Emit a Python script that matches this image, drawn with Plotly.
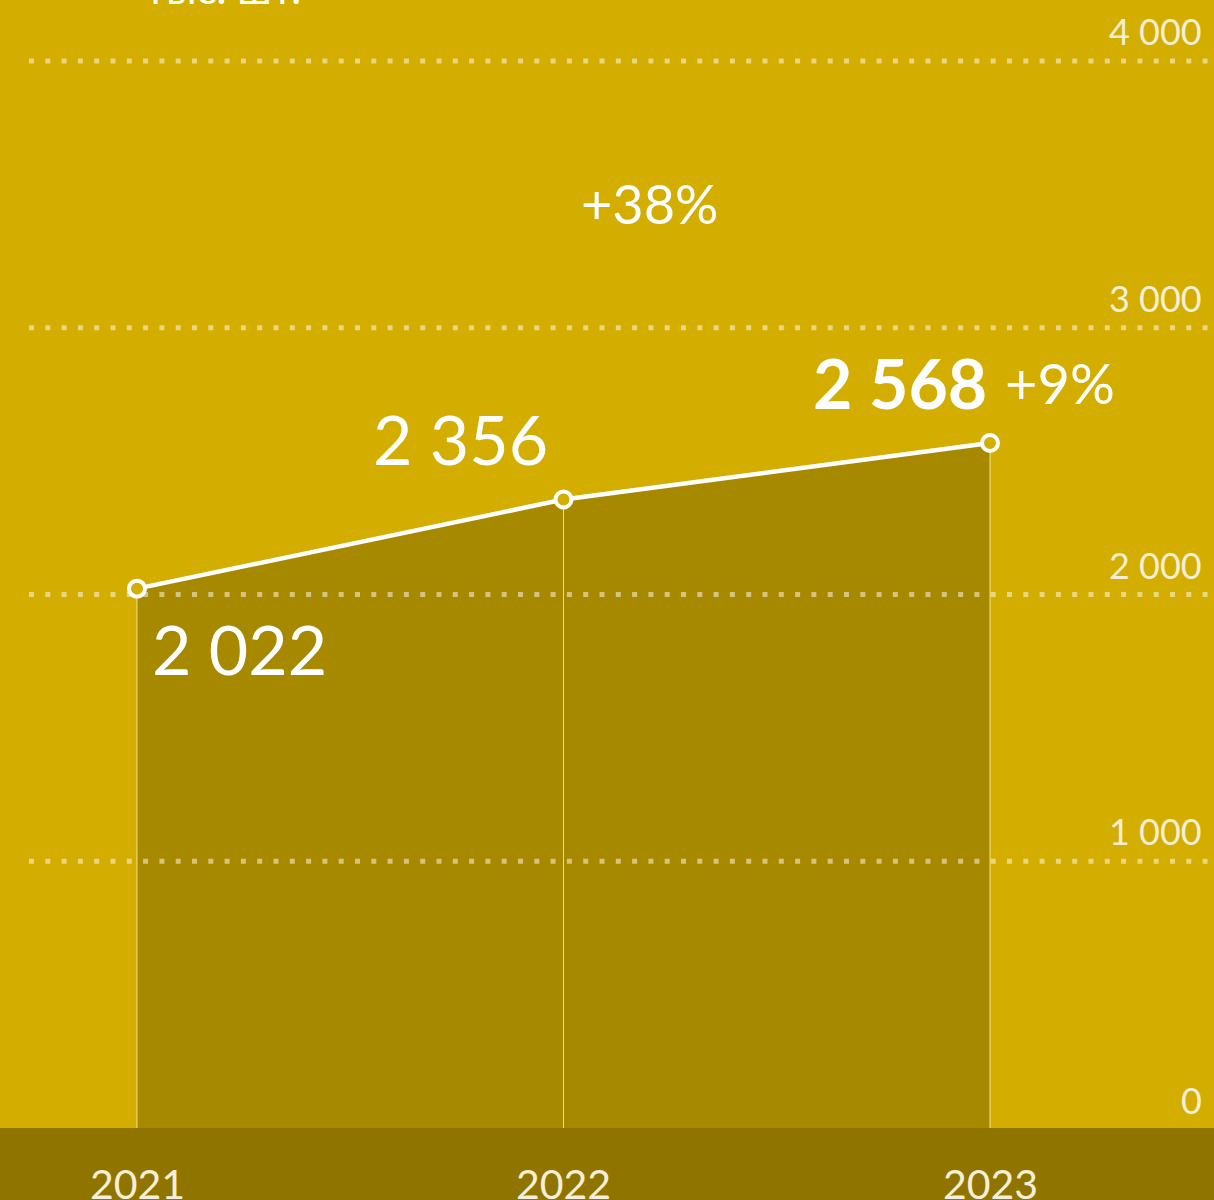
import plotly.graph_objects as go

years = [2021, 2022, 2023]
values = [2022, 2356, 2568]
value_labels = ["2 022", "2 356", "2 568"]
growth_label = "+9%"
total_growth_label = "+38%"
unit_label = "тыс. шт."
y_ticks = [0, 1000, 2000, 3000, 4000]
y_tick_labels = ["0", "1 000", "2 000", "3 000", "4 000"]
x_tick_labels = ["2021", "2022", "2023"]

W, H = 1214, 1200
MB = 72
PH = H - MB
BG = "#D3AD00"
BAND = "#8F7500"
FONT = "Lato"

px_per_year = 426.5
x_min = years[0] - 137 / px_per_year
x_max = years[0] + (W - 137) / px_per_year
y_max = 4000 * PH / 1067.0

def px_to_x(p):
    return x_min + p / px_per_year

fig = go.Figure()

# filled area
fig.add_trace(go.Scatter(x=years, y=values, mode="lines", fill="tozeroy",
                         fillcolor="#A78900", line=dict(width=0, color="rgba(0,0,0,0)"),
                         hoverinfo="skip", showlegend=False))

# dotted grid lines
gx0, gx1 = px_to_x(29), px_to_x(W + 2)
for t in y_ticks[1:]:
    fig.add_trace(go.Scatter(x=[gx0, gx1], y=[t, t], mode="lines",
                             line=dict(color="rgba(255,255,255,0.5)", width=5, dash="5px,11.3px"),
                             hoverinfo="skip", showlegend=False))

# vertical drop lines
vx, vy = [], []
for xv, yv in zip(years, values):
    vx += [xv, xv, None]
    vy += [0, yv, None]
fig.add_trace(go.Scatter(x=vx, y=vy, mode="lines",
                         line=dict(color="rgba(255,245,200,0.75)", width=1),
                         hoverinfo="skip", showlegend=False))

# main line
fig.add_trace(go.Scatter(x=years, y=values, mode="lines+markers",
                         line=dict(color="white", width=4.5),
                         marker=dict(size=16, color=BG, line=dict(color="white", width=4)),
                         showlegend=False))

ann = []
ann.append(dict(x=years[0], y=values[0], xref="x", yref="y", text=value_labels[0],
                xanchor="left", yanchor="middle", xshift=13, yshift=-60,
                showarrow=False, font=dict(family=FONT, size=68, color="white")))
ann.append(dict(x=years[1], y=values[1], xref="x", yref="y", text=value_labels[1],
                xanchor="center", yanchor="middle", xshift=-103, yshift=61,
                showarrow=False, font=dict(family=FONT, size=68, color="white")))
ann.append(dict(x=years[2], y=values[2], xref="x", yref="y", text="<b>" + value_labels[2] + "</b>",
                xanchor="right", yanchor="middle", xshift=-1, yshift=60,
                showarrow=False, font=dict(family=FONT, size=68, color="white")))
ann.append(dict(x=years[2], y=values[2], xref="x", yref="y", text=growth_label,
                xanchor="left", yanchor="middle", xshift=13, yshift=60,
                showarrow=False, font=dict(family=FONT, size=56, color="white")))
ann.append(dict(x=650 / W, y=1 - 203 / PH, xref="paper", yref="paper", text=total_growth_label,
                xanchor="center", yanchor="middle", showarrow=False,
                font=dict(family=FONT, size=54, color="white")))
ann.append(dict(x=143 / W, y=1 + 12 / PH, xref="paper", yref="paper", text=unit_label,
                xanchor="left", yanchor="middle", showarrow=False,
                font=dict(family=FONT, size=42, color="white")))

for t, lab in zip(y_ticks, y_tick_labels):
    ann.append(dict(x=1, y=t, xref="paper", yref="y", text=lab, xanchor="right", yanchor="bottom",
                    xshift=-10, yshift=6 if t > 0 else 4, showarrow=False,
                    font=dict(family=FONT, size=36, color="#F6EFD6")))

for xv, lab in zip(years, x_tick_labels):
    ann.append(dict(x=xv, y=-55 / PH, xref="x", yref="paper", text=lab, xanchor="center",
                    yanchor="middle", showarrow=False,
                    font=dict(family=FONT, size=41, color="#F6EFD6")))

fig.update_layout(
    width=W, height=H,
    margin=dict(l=0, r=0, t=0, b=MB, pad=0),
    paper_bgcolor=BAND, plot_bgcolor=BG,
    xaxis=dict(range=[x_min, x_max], showgrid=False, zeroline=False, showticklabels=False,
               showline=False, ticks="", fixedrange=True),
    yaxis=dict(range=[0, y_max], showgrid=False, zeroline=False, showticklabels=False,
               showline=False, ticks="", fixedrange=True),
    annotations=ann,
    showlegend=False,
)

fig.write_html("out.html", config={"displayModeBar": False},
               post_script="document.body.style.margin='0';document.body.style.padding='0';document.body.style.overflow='hidden';")
